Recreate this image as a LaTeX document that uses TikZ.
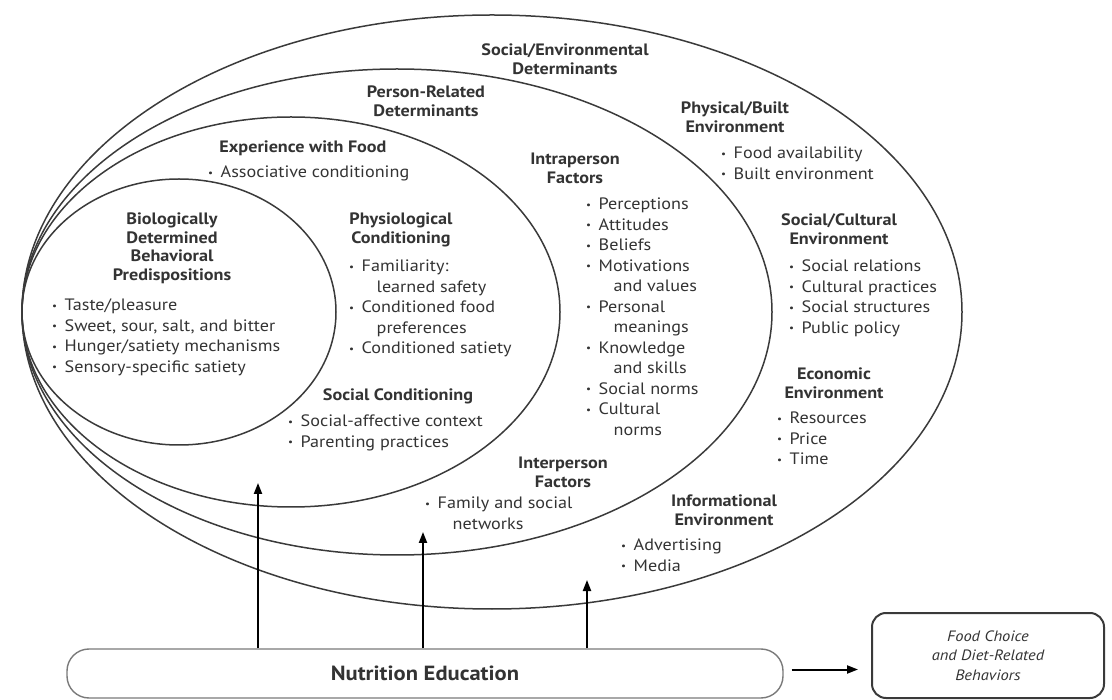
\documentclass[tikz,border=0pt]{standalone}
\usepackage{fontspec}
\setmainfont{PT Sans}[FakeStretch=1.1]
\usetikzlibrary{arrows.meta}

\definecolor{ink}{HTML}{333333}
\definecolor{rim}{HTML}{3A3A3A}
\definecolor{boxrim}{HTML}{7A7A7A}

% type sizes
\newcommand{\headfont}{\fontsize{16.5}{18.5}\selectfont\bfseries}
\newcommand{\itemfont}{\fontsize{16.5}{20.5}\selectfont}
% bullet and hanging indent for list items
\newcommand{\bul}{\makebox[12.5pt][l]{\raisebox{1.5pt}{\fontsize{10}{10}\selectfont •}}}
\newcommand{\cont}{\hspace*{27.5pt}}

\tikzset{
  head/.style={anchor=north, inner sep=0pt, align=center, font=\headfont, text=ink},
  items/.style={anchor=north west, inner sep=0pt, align=left, font=\itemfont, text=ink},
  ring/.style={draw=rim, line width=1.5pt},
  up/.style={-{Triangle[length=11pt,width=8pt]}, line width=2pt, draw=black},
}

\begin{document}
\begin{tikzpicture}[x=1pt, y=-1pt]
\useasboundingbox (0,0) rectangle (1112,700);

% nested determinant rings, all touching on the left
\draw[ring] (492,312) ellipse [x radius=470pt, y radius=297pt];
\draw[ring] (397,312) ellipse [x radius=375pt, y radius=243pt];
\draw[ring] (291,312) ellipse [x radius=269pt, y radius=195pt];
\draw[ring] (179,312) ellipse [x radius=157pt, y radius=133pt];

% outer ring
\node[head] (socenv) at (565,42.5) {\strut Social/Environmental\\Determinants};
\node[head] (physbuilt) at (735,100.5) {\strut Physical/Built\\Environment};
\node[items] (physbuiltL) at (721,144) {\strut\bul Food availability\\\bul Built environment};
\node[head] (soccult) at (839,212.5) {\strut Social/Cultural\\Environment};
\node[items] (soccultL) at (789,257) {\strut\bul Social relations\\\bul Cultural practices\\\bul Social structures\\\bul Public policy};
\node[head] (econ) at (834,366.5) {\strut Economic\\Environment};
\node[items] (econL) at (777,409) {\strut\bul Resources\\\bul Price\\\bul Time};
\node[head] (info) at (724,493.5) {\strut Informational\\Environment};
\node[items] (infoL) at (621,536) {\strut\bul Advertising\\\bul Media};

% person-related ring
\node[head] (person) at (426,84.5) {\strut Person-Related\\Determinants};
\node[head] (intra) at (575,151.5) {\strut Intraperson\\Factors};
\node[items] (intraL) at (586,195) {\strut\bul Perceptions\\\bul Attitudes\\\bul Beliefs\\\bul Motivations\\\cont and values\\\bul Personal\\\cont meanings\\\bul Knowledge\\\cont and skills\\\bul Social norms\\\bul Cultural\\\cont norms};
\node[head] (inter) at (563,455.5) {\strut Interperson\\Factors};
\node[items] (interL) at (425,494) {\strut\bul Family and social\\\cont networks};

% experience ring
\node[head] (exp) at (303,139.5) {\strut Experience with Food};
\node[items] (expL) at (208,163) {\strut\bul Associative conditioning};
\node[head] (physio) at (401,211.5) {\strut Physiological\\Conditioning};
\node[items] (physioL) at (349,257) {\strut\bul Familiarity:\\\cont learned safety\\\bul Conditioned food\\\cont preferences\\\bul Conditioned satiety};
\node[head] (soccond) at (398,387.5) {\strut Social Conditioning};
\node[items] (soccondL) at (288,412) {\strut\bul Social-affective context\\\bul Parenting practices};

% innermost ring
\node[head] (bio) at (172,211.5) {\strut Biologically\\Determined\\Behavioral\\Predispositions};
\node[items] (bioL) at (52,296) {\strut\bul Taste/pleasure\\\bul Sweet, sour, salt, and bitter\\\bul Hunger/satiety mechanisms\\\bul Sensory-specific satiety};

% education and outcome boxes
\node[draw=boxrim, line width=1.4pt, rounded corners=22pt, minimum width=716pt,
      minimum height=49pt, inner sep=0pt, text=ink,
      font=\fontsize{20.5}{22}\selectfont\bfseries] (nutri) at (425,673.5) {Nutrition Education};
\node[draw=rim, line width=2pt, rounded corners=14pt, minimum width=232pt,
      minimum height=85pt, inner sep=0pt, align=center, text=ink,
      font=\fontsize{15}{19.5}\selectfont\itshape] (food) at (988,655.5)
      {Food Choice\\and Diet-Related\\Behaviors};

% arrow tips inside the rings
\coordinate (t1) at (258,483);
\coordinate (t2) at (423,532);
\coordinate (t3) at (587,580);
\draw[up] (nutri.north -| t1) -- (t1);
\draw[up] (nutri.north -| t2) -- (t2);
\draw[up] (nutri.north -| t3) -- (t3);

% level arrow from education to behaviours
\coordinate (a0) at ([xshift=8pt,yshift=4pt]nutri.east);
\draw[up] (a0) -- ([xshift=-13pt]food.west |- a0);

\end{tikzpicture}
\end{document}
